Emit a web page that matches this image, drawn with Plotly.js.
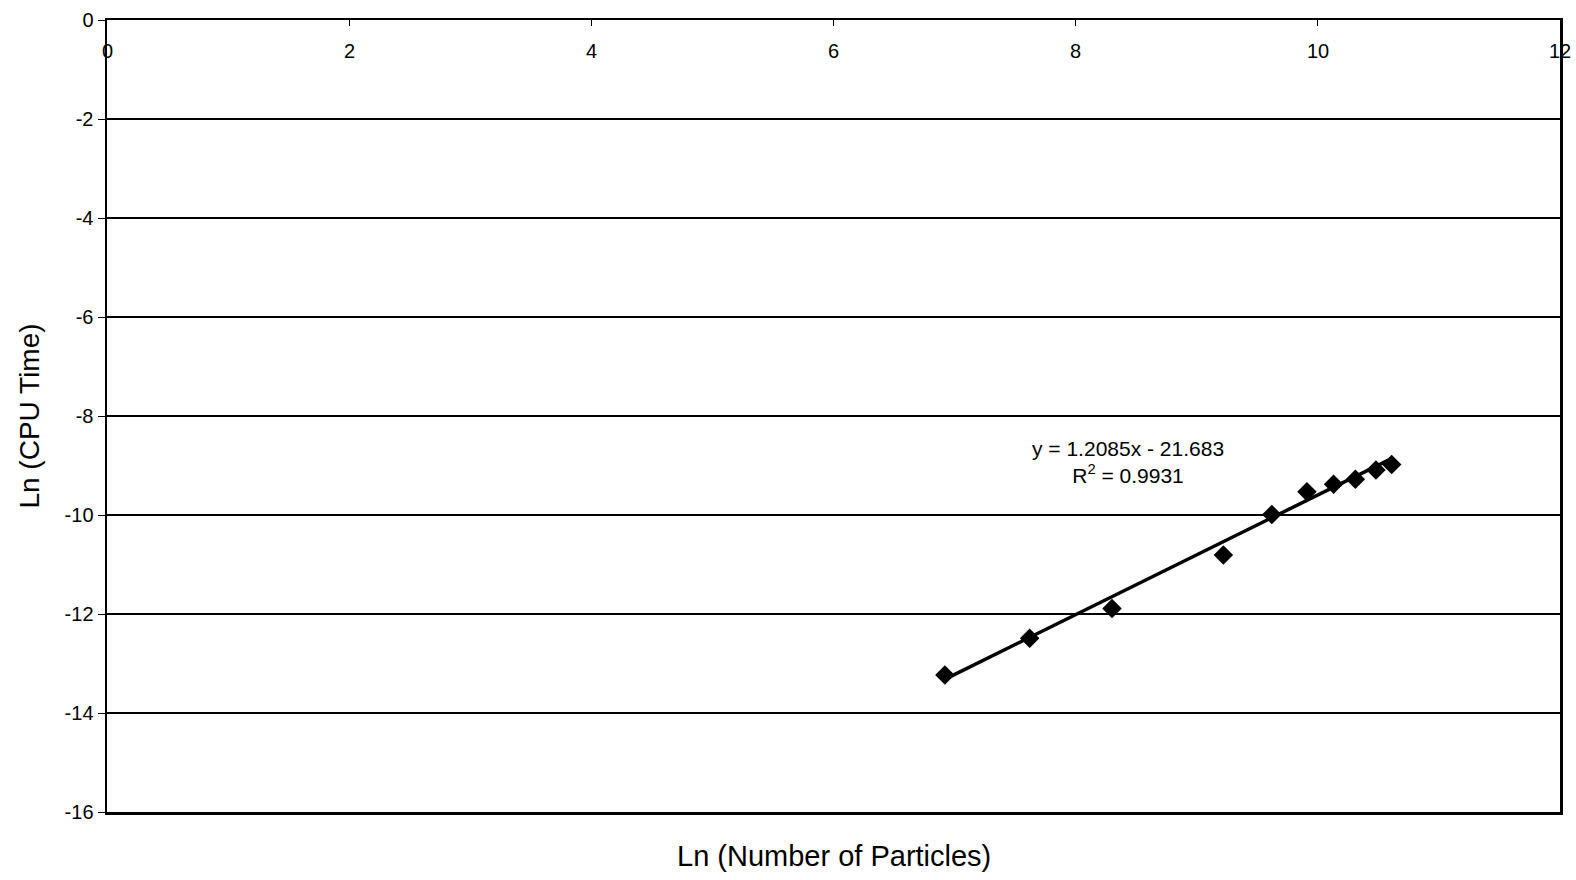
<!DOCTYPE html>
<html>
<head>
<meta charset="utf-8">
<script src="https://cdn.plot.ly/plotly-3.0.1.min.js"></script>
<style>html,body{margin:0;padding:0;background:#fff;}#chart{width:1576px;height:880px;}</style>
</head>
<body>
<div id="chart"></div>
<script>
// Data
const lnParticles = [6.92, 7.62, 8.30, 9.22, 9.62, 9.91, 10.13, 10.31, 10.48, 10.61];
const lnCpuTime   = [-13.23, -12.49, -11.89, -10.81, -9.99, -9.53, -9.38, -9.28, -9.09, -8.98];
const trendX = [6.91, 10.60];
const trendY = [-13.33, -8.87];
const xTicks = [0, 2, 4, 6, 8, 10, 12];
const xTickLabels = ['0', '2', '4', '6', '8', '10', '12'];
const yTicks = [0, -2, -4, -6, -8, -10, -12, -14, -16];
const yTickLabels = ['0', '-2', '-4', '-6', '-8', '-10', '-12', '-14', '-16'];
const equationText = 'y = 1.2085x - 21.683<br>R<sup>2</sup> = 0.9931';
const xTitle = 'Ln (Number of Particles)';
const yTitle = 'Ln (CPU Time)';

const font = 'Liberation Sans, Arial, sans-serif';

const traces = [
  {
    x: lnParticles, y: lnCpuTime, type: 'scatter', mode: 'markers',
    marker: {symbol: 'diamond', size: 15, color: '#000'},
    showlegend: false
  },
  {
    x: trendX, y: trendY, type: 'scatter', mode: 'lines',
    line: {color: '#000', width: 3.5},
    showlegend: false
  }
];

// x tick labels sit just inside the top edge of the plot, centred on each tick
const xTickAnnotations = xTicks.map((v, i) => ({
  x: v, y: 1, xref: 'x', yref: 'paper', text: xTickLabels[i], showarrow: false,
  xanchor: 'center', yanchor: 'middle', yshift: -31,
  font: {family: font, size: 20, color: '#000'}
}));

const layout = {
  width: 1576, height: 880,
  paper_bgcolor: '#fff', plot_bgcolor: '#fff',
  margin: {l: 107, r: 16, t: 20, b: 68, pad: 0},
  font: {family: font, color: '#000', size: 20},
  xaxis: {
    range: [0, 12], tickvals: xTicks, side: 'top',
    ticks: 'inside', ticklen: 6, tickcolor: '#000', tickwidth: 1,
    showticklabels: false,
    showgrid: false, zeroline: false,
    showline: true, linecolor: '#000', linewidth: 2.5, mirror: true
  },
  yaxis: {
    range: [-16, 0], tickvals: yTicks, ticktext: yTickLabels, ticks: 'outside', ticklen: 7,
    tickcolor: '#000', tickwidth: 1,
    tickfont: {family: font, size: 20, color: '#000'},
    showgrid: true, gridcolor: '#000', gridwidth: 1.3,
    zeroline: false, showline: true, linecolor: '#000', linewidth: 2.5, mirror: true,
    title: {text: yTitle, font: {family: font, size: 28, color: '#000'}, standoff: 17}
  },
  annotations: [
    {
      x: 8.43, y: -8.93, xref: 'x', yref: 'y', text: equationText, showarrow: false,
      align: 'center', font: {family: font, size: 21, color: '#000'}
    },
    {
      x: 0.5, y: -0.055, xref: 'paper', yref: 'paper', text: xTitle, showarrow: false,
      xanchor: 'center', yanchor: 'middle', font: {family: font, size: 29, color: '#000'}
    }
  ].concat(xTickAnnotations)
};

Plotly.newPlot('chart', traces, layout, {displayModeBar: false, staticPlot: true});
</script>
</body>
</html>
